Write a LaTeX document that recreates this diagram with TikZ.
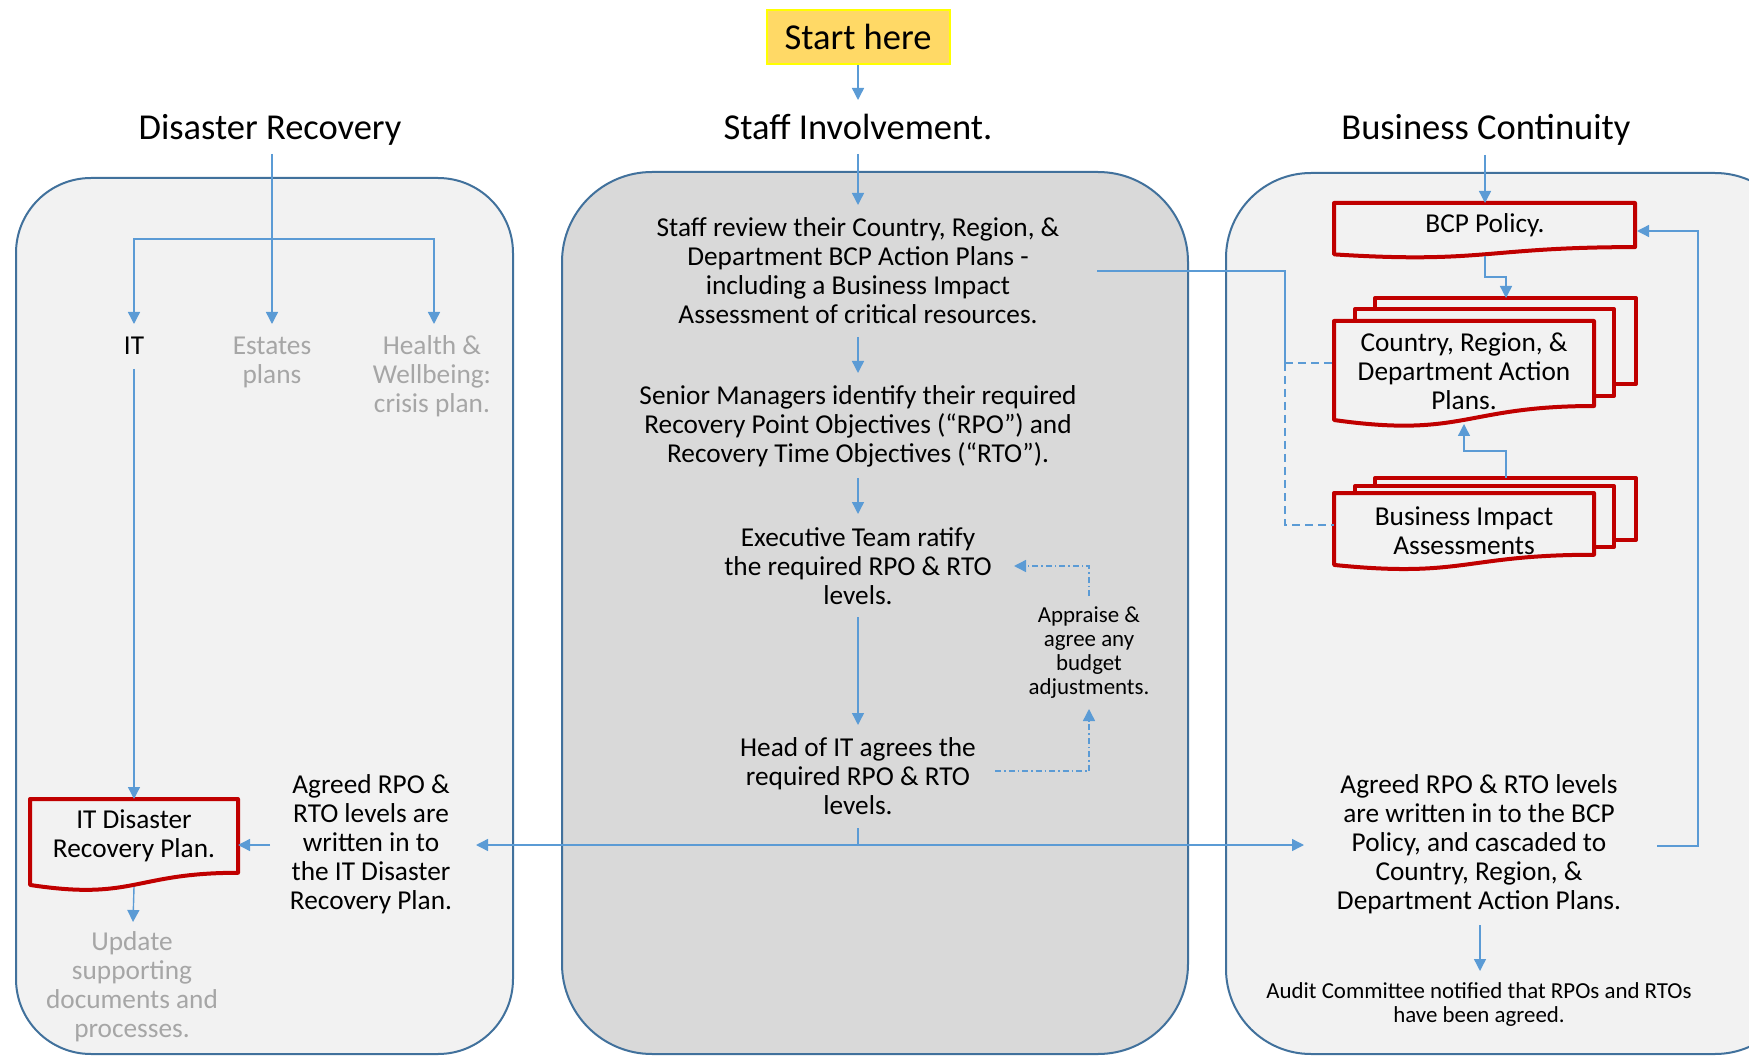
\documentclass[tikz,border=0pt]{standalone}
\usepackage{fontspec}
\setmainfont{Carlito}
\usetikzlibrary{arrows.meta}
\definecolor{connc}{HTML}{5B9BD5}
\definecolor{panelb}{HTML}{41719C}
\definecolor{panelL}{HTML}{F2F2F2}
\definecolor{panelM}{HTML}{D9D9D9}
\definecolor{docred}{HTML}{C00000}
\definecolor{grayt}{HTML}{A6A6A6}
\definecolor{startfill}{HTML}{FFD966}
\definecolor{startline}{HTML}{FFFF00}
\newcommand\docshape[4]{% x1, top, x2, h
  \filldraw[docbox] (#1,#2) -- (#3,#2) -- (#3,{#2+0.802*#4})
    .. controls ({#1+0.5*(#3-#1)},{#2+0.802*#4}) and ({#1+0.5*(#3-#1)},{#2+1.1075*#4}) ..
    (#1,{#2+0.934*#4}) -- cycle;}
\begin{document}
\begin{tikzpicture}[x=1pt,y=-1pt,
  conn/.style={draw=connc, line width=1.4pt},
  arr/.style={conn, -{Triangle[length=12pt,width=12pt]}},
  ddash/.style={conn, dash pattern=on 6pt off 3pt on 1.5pt off 3pt},
  lightdash/.style={conn, dash pattern=on 8pt off 5pt},
  panel/.style={draw=panelb, line width=2pt},
  docbox/.style={draw=docred, fill=panelL, line width=4pt, line join=round},
  txt/.style={align=center, inner sep=0pt, font=\fontsize{27.3}{29}\selectfont},
  graytxt/.style={txt, text=grayt},
  small/.style={align=center, inner sep=0pt, font=\fontsize{22.9}{24}\selectfont},
  title/.style={inner sep=0pt, anchor=base, font=\fontsize{36.5}{40}\selectfont},
  startbox/.style={fill=startfill, draw=startline, line width=2pt, inner sep=0pt,
    minimum width=183pt, minimum height=54pt, font=\fontsize{36.5}{40}\selectfont}]
\clip (0,0) rectangle (1749,1056);
\fill[white] (0,0) rectangle (1749,1056);

% panels
\filldraw[panel, fill=panelL, rounded corners=75pt] (16,178) rectangle (513,1054);
\filldraw[panel, fill=panelM, rounded corners=90pt] (562,172) rectangle (1188,1054);
\filldraw[panel, fill=panelL, rounded corners=85pt] (1226,173) rectangle (1800,1054);

% titles
\node[startbox] (start) at (858,37) {Start here};
\node[title] (dr) at (270,140) {Disaster Recovery};
\node[title] (si) at (858,140) {Staff Involvement.};
\node[title] (bc) at (1486,140) {Business Continuity};

% left column
\node[txt] (it) at (134,346) {IT};
\node[graytxt] (est) at (272,362) {Estates\\plans};
\node[graytxt] (hw) at (432,376) {Health \&\\Wellbeing:\\crisis plan.};
\docshape{30}{799}{238}{92}
\node[txt] (itdrp) at (134,836) {IT Disaster\\Recovery Plan.};
\node[graytxt] (upd) at (132,987) {Update\\supporting\\documents and\\processes.};
\node[txt] (agl) at (371,844) {Agreed RPO \&\\RTO levels are\\written in to\\the IT Disaster\\Recovery Plan.};

% middle column
\node[txt] (staff) at (858,271) {Staff review their Country, Region, \&\\Department BCP Action Plans -\\including a Business Impact\\Assessment of critical resources.};
\node[txt] (senior) at (858,426) {Senior Managers identify their required\\Recovery Point Objectives (“RPO”) and\\Recovery Time Objectives (“RTO”).};
\node[txt] (exec) at (858,566) {Executive Team ratify\\the required RPO \& RTO\\levels.};
\node[txt] (head) at (858,776) {Head of IT agrees the\\required RPO \& RTO\\levels.};
\node[small] (appr) at (1089,653) {Appraise \&\\agree any\\budget\\adjustments.};

% right column
\docshape{1334}{203}{1635}{55}
\node[txt] (bcp) at (1485,225) {BCP Policy.};
\filldraw[docbox] (1375,298) rectangle (1636,384);
\filldraw[docbox] (1355,309) rectangle (1614,396);
\docshape{1334}{321}{1594}{106}
\node[txt] (crd) at (1464,371) {Country, Region, \&\\Department Action\\Plans.};
\filldraw[docbox] (1375,478) rectangle (1636,540);
\filldraw[docbox] (1355,486) rectangle (1614,547);
\docshape{1334}{493}{1594}{77}
\node[txt] (bia) at (1464,531) {Business Impact\\Assessments};
\node[txt] (agr) at (1479,844) {Agreed RPO \& RTO levels\\are written in to the BCP\\Policy, and cascaded to\\Country, Region, \&\\Department Action Plans.};
\node[small] (audit) at (1479,1005) {Audit Committee notified that RPOs and RTOs\\have been agreed.};

% connectors: middle
\draw[arr] (start.south) -- (858,100);
\draw[arr] (858,154) -- (858,205);
\draw[arr] (858,337) -- (858,373);
\draw[arr] (858,478) -- (858,514);
\draw[arr] (858,617) -- (858,725);
\draw[conn] (858,828) -- (858,845);
\draw[arr] (858,845) -- (476,845);
\draw[arr] (858,845) -- (1304,845);
\draw[ddash, -{Triangle[length=12pt,width=12pt]}] (995,771) -| (1089,709);
\draw[ddash, -{Triangle[length=12pt,width=12pt]}] (1089,596) |- (1014,566);

% connectors: left
\draw[conn] (272,154) -- (272,239);
\draw[arr] (272,239) -- (134,239) -- (134,324);
\draw[arr] (272,239) -- (272,324);
\draw[arr] (272,239) -- (434,239) -- (434,324);
\draw[arr] (134,369) -- (134,799);
\draw[arr] (270,845) -- (238,845);
\draw[arr] (134,887) -- (133,922);

% connectors: right
\draw[arr] (1485,155) -- (1485,203);
\draw[arr] (1485,256) |- (1506,277) -- (1506,298);
\draw[arr] (1506,478) |- (1464,451) -- (1464,424);
\draw[conn] (1097,271) -| (1285,363);
\draw[lightdash] (1285,363) -- (1334,363);
\draw[lightdash] (1285,363) |- (1334,525);
\draw[arr] (1657,846) -| (1698,231) -- (1637,231);
\draw[arr] (1480,925) -- (1480,971);
\end{tikzpicture}
\end{document}
